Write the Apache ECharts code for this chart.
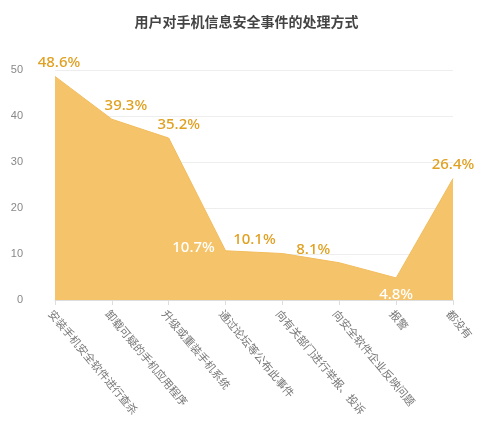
<!DOCTYPE html>
<html><head><meta charset="utf-8">
<script src="https://cdn.jsdelivr.net/npm/echarts@6/dist/echarts.min.js"></script>
<style>html,body{margin:0;background:#fff}#c{width:493px;height:435px}</style>
</head><body><div id="c"></div>
<script>
// 类别与数据
var categories = ['安装手机安全软件进行查杀', '卸载可疑的手机应用程序', '升级或重装手机系统', '通过论坛等公布此事件',
    '向有关部门进行举报、投诉', '向安全软件企业反映问题', '报警', '都没有'];
var values = [48.6, 39.3, 35.2, 10.7, 10.1, 8.1, 4.8, 26.4];
var yTicks = [0, 10, 20, 30, 40, 50];
// 数值标签的偏移和颜色（样式）
var labelShift = [[4, 0], [14, 0], [10, 0], [-32, 10], [-28, 0], [-26, 0], [0, 30], [0, 0]];
var labelColor = ['#e0a020', '#e0a020', '#e0a020', '#fff', '#e0a020', '#e0a020', '#fff', '#e0a020'];

var chart = echarts.init(document.getElementById('c'));
chart.setOption({
    title: {
        text: '用户对手机信息安全事件的处理方式', left: 'center', top: 10,
        textStyle: {fontSize: 14, fontWeight: 'bold', color: '#444', fontFamily: 'Noto Sans CJK SC'}
    },
    grid: {left: 55, right: 40, top: 70, bottom: 135},
    xAxis: {
        type: 'category', data: categories, boundaryGap: false,
        axisLine: {lineStyle: {color: '#ddd'}},
        axisTick: {show: true, lineStyle: {color: '#ddd'}},
        axisLabel: {rotate: -50, color: '#777', fontSize: 11, interval: 0, fontFamily: 'Noto Sans CJK SC',
            align: 'left', verticalAlign: 'top', margin: 8}
    },
    yAxis: {
        type: 'value', min: yTicks[0], max: yTicks[yTicks.length - 1], interval: 10,
        axisLine: {show: false}, axisTick: {show: false},
        axisLabel: {color: '#888', fontSize: 11, margin: 32},
        splitLine: {lineStyle: {color: '#eee'}}
    },
    series: [{
        type: 'line', symbol: 'circle', symbolSize: 0, showSymbol: true,
        data: values.map(function (v, i) {
            return {value: v, label: {offset: labelShift[i], color: labelColor[i]}};
        }),
        lineStyle: {color: '#f2bc5c', width: 1},
        itemStyle: {color: '#f2bc5c'},
        areaStyle: {color: '#f5c46a', opacity: 1},
        label: {
            show: true, position: 'top', formatter: '{c}%',
            fontSize: 15, fontWeight: 500, fontFamily: 'Noto Sans', distance: 6
        }
    }]
});
</script></body></html>
